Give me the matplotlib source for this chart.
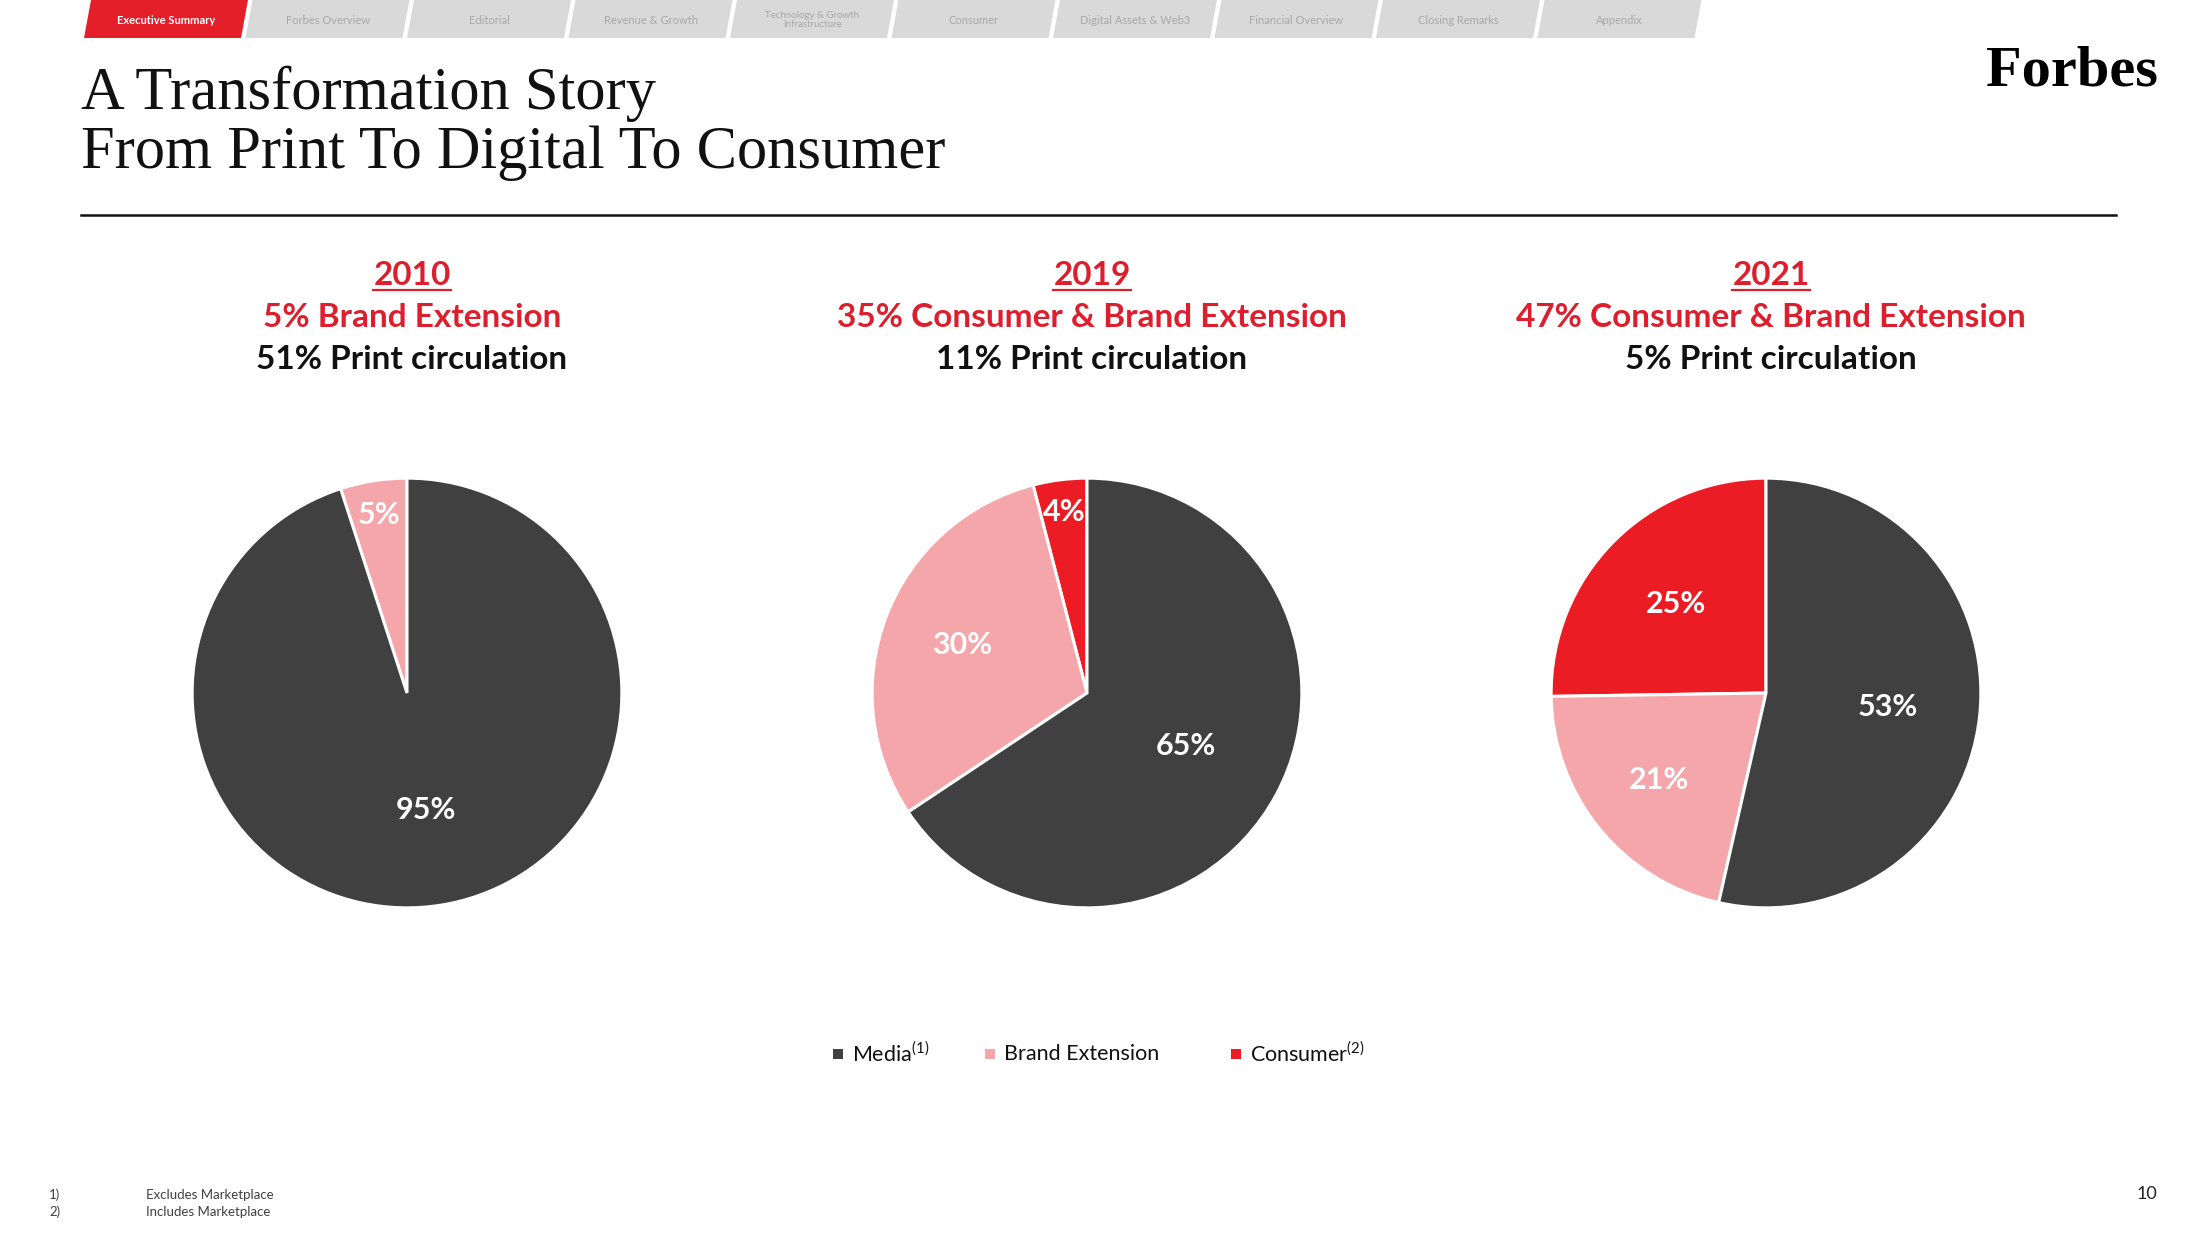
import numpy as np
import matplotlib
matplotlib.use('Agg')
import matplotlib.pyplot as plt
from matplotlib.patches import Polygon, Rectangle

plt.rcParams['font.family'] = ['Lato', 'DejaVu Sans']

# ---- data ----
years = ['2010', '2019', '2021']
headline = ['5% Brand Extension', '35% Consumer & Brand Extension', '47% Consumer & Brand Extension']
print_line = ['51% Print circulation', '11% Print circulation', '5% Print circulation']
consumer = [0, 4, 25]
brand_ext = [5, 30, 21]
media = [95, 65, 53]

tabs = ['Executive Summary', 'Forbes Overview', 'Editorial', 'Revenue & Growth',
        'Technology & Growth\nInfrastructure', 'Consumer', 'Digital Assets & Web3',
        'Financial Overview', 'Closing Remarks', 'Appendix']
legend_names = ['Media$^{\\mathregular{(1)}}$', 'Brand Extension', 'Consumer$^{\\mathregular{(2)}}$']
notes = ['Excludes Marketplace', 'Includes Marketplace']

DARK = '#404040'
PINK = '#F4A6AA'
RED = '#EC1C24'
HEAD_RED = '#DD1F2D'

W, H = 2200, 1238
fig = plt.figure(figsize=(W / 100, H / 100), dpi=100)
bg = fig.add_axes([0, 0, 1, 1])
bg.set_xlim(0, W)
bg.set_ylim(H, 0)
bg.axis('off')

# nav tabs
for i, t in enumerate(tabs):
    x0 = 84 + i * 161.5
    col = '#E41F2A' if i == 0 else '#D9D9D9'
    bg.add_patch(Polygon([(x0, 38), (x0 + 7, 0), (x0 + 164, 0), (x0 + 157, 38)],
                         closed=True, facecolor=col, edgecolor='none'))
    bg.text(x0 + 82, 20, t, ha='center', va='center', fontsize=7 if '\n' in t else 8,
            color='white' if i == 0 else '#A8A8A8', fontweight='bold' if i == 0 else 'normal',
            linespacing=1.0)

# title
bg.text(81, 109, 'A Transformation Story', fontsize=43.6, family='Liberation Serif',
        color='#111111', va='baseline')
bg.text(81, 168, 'From Print To Digital To Consumer', fontsize=43.6, family='Liberation Serif',
        color='#111111', va='baseline')
bg.plot([81, 2116], [215, 215], color='#111111', lw=1.8)

# logo
bg.text(2158, 86, 'Forbes', fontsize=42, family='Liberation Serif', fontweight='bold',
        color='black', ha='right', va='baseline')

# pies
centers = [407, 1087, 1766]
cy, r = 693, 217
label_dist = [[0.84, 0.55], [0.85, 0.62, 0.52], [0.59, 0.64, 0.57]]
year_texts = []
for k in range(3):
    cx = centers[k]
    ax = fig.add_axes([(cx - r) / W, 1 - (cy + r) / H, 2 * r / W, 2 * r / H])
    vals, cols = [], []
    for v, c in zip([consumer[k], brand_ext[k], media[k]], [RED, PINK, DARK]):
        if v > 0:
            vals.append(v)
            cols.append(c)
    wedges, _ = ax.pie(vals, colors=cols, startangle=90, counterclock=True,
                       wedgeprops=dict(edgecolor='white', linewidth=2.2))
    ax.set_xlim(-1.01, 1.01)
    ax.set_ylim(-1.01, 1.01)
    for w, v, d in zip(wedges, vals, label_dist[k]):
        a = np.deg2rad((w.theta1 + w.theta2) / 2)
        ax.text(d * np.cos(a), d * np.sin(a), f'{v}%', ha='center', va='center',
                fontsize=22, fontweight='bold', color='white')

    hx = cx + 5
    yt = bg.text(hx, 285, years[k], ha='center', va='baseline', fontsize=24,
                 fontweight='bold', color=HEAD_RED)
    year_texts.append(yt)
    bg.text(hx, 327, headline[k], ha='center', va='baseline', fontsize=24,
            fontweight='bold', color=HEAD_RED)
    bg.text(hx, 369, print_line[k], ha='center', va='baseline', fontsize=24,
            fontweight='bold', color='#111111')

# underline the years
fig.canvas.draw()
inv = bg.transData.inverted()
for yt in year_texts:
    bb = yt.get_window_extent()
    (x1, _), (x2, _) = inv.transform([(bb.x0, bb.y0), (bb.x1, bb.y0)])
    bg.plot([x1, x2], [290, 290], color=HEAD_RED, lw=1.6)

# legend
leg_x = [838, 990, 1236]
for x, name, c in zip(leg_x, legend_names, [DARK, PINK, RED]):
    bg.add_patch(Rectangle((x - 5, 1049), 10, 10, facecolor=c, edgecolor='none'))
    bg.text(x + 14, 1054, name, ha='left', va='center', fontsize=15.5, color='#111111')

# footnotes
for i, n in enumerate(notes):
    bg.text(49, 1195 + i * 17, f'{i + 1})', fontsize=9.5, color='#404040', va='center')
    bg.text(146, 1195 + i * 17, n, fontsize=9.5, color='#404040', va='center')
bg.text(2147, 1194, '10', fontsize=13, color='#222222', ha='center', va='center')

fig.savefig('out.png', dpi=100)
